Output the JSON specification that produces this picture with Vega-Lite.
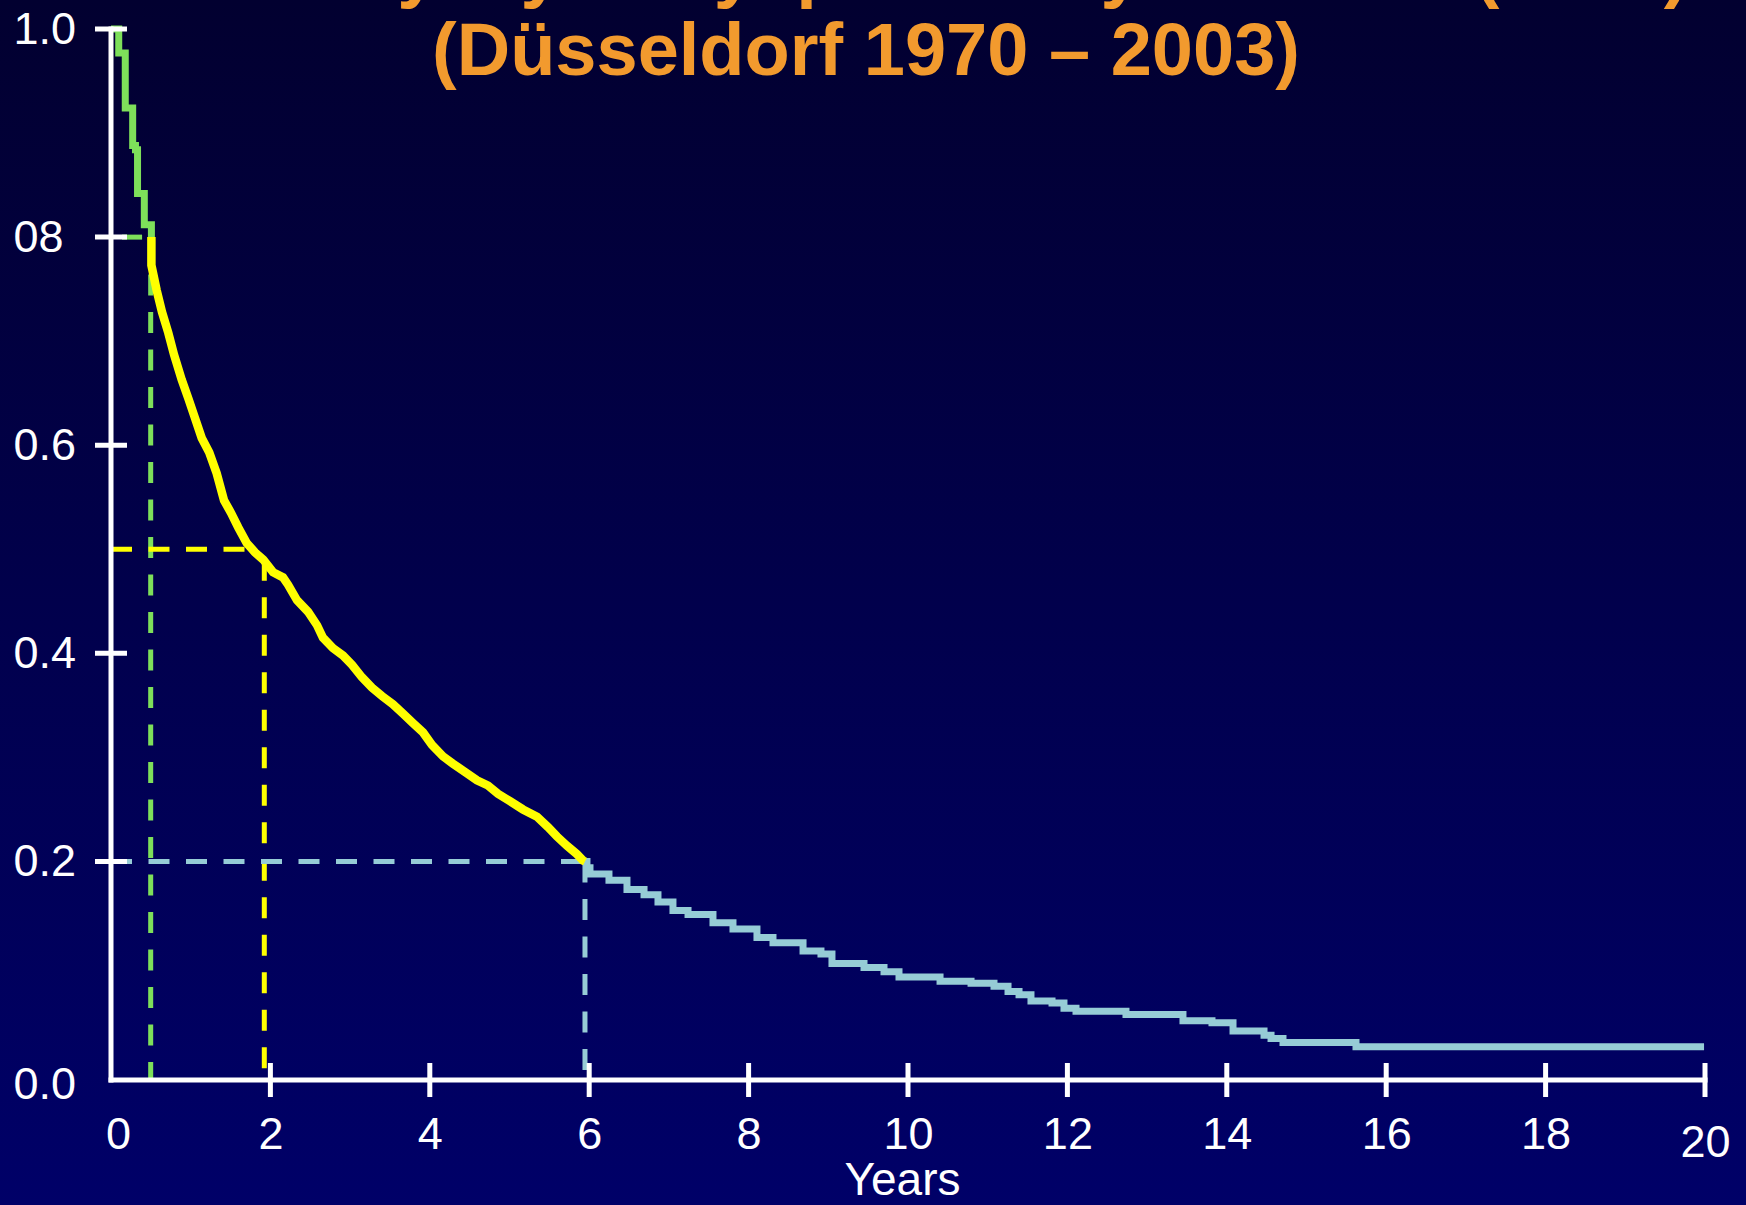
{
  "$schema": "https://vega.github.io/schema/vega-lite/v6.json",
  "width": 1746,
  "height": 1205,
  "autosize": {"type": "none"},
  "padding": 0,
  "background": "#00004a",
  "title": {
    "text": ["Survival by Myelodysplastic Syndromes (MDS)", "(Düsseldorf 1970 – 2003)"],
    "orient": "top",
    "anchor": "middle",
    "frame": "group",
    "font": "Liberation Sans",
    "fontSize": 74,
    "fontWeight": "bold",
    "color": "#F29A2E",
    "lineHeight": 81,
    "baseline": "bottom",
    "offset": -165,
    "dx": -7
  },
  "datasets": {
    "curve": [
      {"i": 0, "seg": "early", "t": 0, "s": 1.0},
      {"i": 1, "seg": "early", "t": 0.097, "s": 0.977},
      {"i": 2, "seg": "early", "t": 0.179, "s": 0.924},
      {"i": 3, "seg": "early", "t": 0.272, "s": 0.888},
      {"i": 4, "seg": "early", "t": 0.307, "s": 0.884},
      {"i": 5, "seg": "early", "t": 0.333, "s": 0.842},
      {"i": 6, "seg": "early", "t": 0.418, "s": 0.812},
      {"i": 7, "seg": "early", "t": 0.507, "s": 0.8},
      {"i": 10, "seg": "mid", "t": 0.507, "s": 0.8},
      {"i": 11, "seg": "mid", "t": 0.507, "s": 0.773},
      {"i": 12, "seg": "mid", "t": 0.573, "s": 0.749},
      {"i": 13, "seg": "mid", "t": 0.64, "s": 0.728},
      {"i": 14, "seg": "mid", "t": 0.719, "s": 0.708},
      {"i": 15, "seg": "mid", "t": 0.791, "s": 0.687},
      {"i": 16, "seg": "mid", "t": 0.887, "s": 0.663},
      {"i": 17, "seg": "mid", "t": 0.97, "s": 0.645},
      {"i": 18, "seg": "mid", "t": 1.054, "s": 0.626},
      {"i": 19, "seg": "mid", "t": 1.138, "s": 0.607},
      {"i": 20, "seg": "mid", "t": 1.233, "s": 0.593},
      {"i": 21, "seg": "mid", "t": 1.326, "s": 0.573},
      {"i": 22, "seg": "mid", "t": 1.418, "s": 0.547},
      {"i": 23, "seg": "mid", "t": 1.506, "s": 0.535},
      {"i": 24, "seg": "mid", "t": 1.597, "s": 0.521},
      {"i": 25, "seg": "mid", "t": 1.703, "s": 0.506},
      {"i": 26, "seg": "mid", "t": 1.807, "s": 0.497},
      {"i": 27, "seg": "mid", "t": 1.911, "s": 0.49},
      {"i": 28, "seg": "mid", "t": 2.033, "s": 0.478},
      {"i": 29, "seg": "mid", "t": 2.158, "s": 0.473},
      {"i": 30, "seg": "mid", "t": 2.221, "s": 0.466},
      {"i": 31, "seg": "mid", "t": 2.334, "s": 0.451},
      {"i": 32, "seg": "mid", "t": 2.472, "s": 0.44},
      {"i": 33, "seg": "mid", "t": 2.585, "s": 0.427},
      {"i": 34, "seg": "mid", "t": 2.66, "s": 0.415},
      {"i": 35, "seg": "mid", "t": 2.785, "s": 0.405},
      {"i": 36, "seg": "mid", "t": 2.911, "s": 0.398},
      {"i": 37, "seg": "mid", "t": 3.024, "s": 0.389},
      {"i": 38, "seg": "mid", "t": 3.149, "s": 0.377},
      {"i": 39, "seg": "mid", "t": 3.275, "s": 0.367},
      {"i": 40, "seg": "mid", "t": 3.4, "s": 0.359},
      {"i": 41, "seg": "mid", "t": 3.538, "s": 0.351},
      {"i": 42, "seg": "mid", "t": 3.664, "s": 0.342},
      {"i": 43, "seg": "mid", "t": 3.789, "s": 0.333},
      {"i": 44, "seg": "mid", "t": 3.915, "s": 0.324},
      {"i": 45, "seg": "mid", "t": 4.028, "s": 0.312},
      {"i": 46, "seg": "mid", "t": 4.166, "s": 0.301},
      {"i": 47, "seg": "mid", "t": 4.291, "s": 0.294},
      {"i": 48, "seg": "mid", "t": 4.442, "s": 0.286},
      {"i": 49, "seg": "mid", "t": 4.592, "s": 0.278},
      {"i": 50, "seg": "mid", "t": 4.73, "s": 0.273},
      {"i": 51, "seg": "mid", "t": 4.856, "s": 0.265},
      {"i": 52, "seg": "mid", "t": 5.006, "s": 0.258},
      {"i": 53, "seg": "mid", "t": 5.169, "s": 0.25},
      {"i": 54, "seg": "mid", "t": 5.345, "s": 0.243},
      {"i": 55, "seg": "mid", "t": 5.483, "s": 0.233},
      {"i": 56, "seg": "mid", "t": 5.596, "s": 0.224},
      {"i": 57, "seg": "mid", "t": 5.722, "s": 0.215},
      {"i": 58, "seg": "mid", "t": 5.847, "s": 0.207},
      {"i": 59, "seg": "mid", "t": 5.922, "s": 0.201},
      {"i": 60, "seg": "mid", "t": 5.947, "s": 0.2},
      {"i": 70, "seg": "late", "t": 5.947, "s": 0.2},
      {"i": 71, "seg": "late", "t": 5.972, "s": 0.194},
      {"i": 72, "seg": "late", "t": 6.01, "s": 0.188},
      {"i": 73, "seg": "late", "t": 6.248, "s": 0.182},
      {"i": 74, "seg": "late", "t": 6.474, "s": 0.173},
      {"i": 75, "seg": "late", "t": 6.688, "s": 0.168},
      {"i": 76, "seg": "late", "t": 6.863, "s": 0.161},
      {"i": 77, "seg": "late", "t": 7.051, "s": 0.153},
      {"i": 78, "seg": "late", "t": 7.24, "s": 0.149},
      {"i": 79, "seg": "late", "t": 7.553, "s": 0.141},
      {"i": 80, "seg": "late", "t": 7.804, "s": 0.135},
      {"i": 81, "seg": "late", "t": 8.105, "s": 0.127},
      {"i": 82, "seg": "late", "t": 8.306, "s": 0.122},
      {"i": 83, "seg": "late", "t": 8.683, "s": 0.114},
      {"i": 84, "seg": "late", "t": 8.908, "s": 0.111},
      {"i": 85, "seg": "late", "t": 9.046, "s": 0.102},
      {"i": 86, "seg": "late", "t": 9.448, "s": 0.098},
      {"i": 87, "seg": "late", "t": 9.699, "s": 0.094},
      {"i": 88, "seg": "late", "t": 9.887, "s": 0.089},
      {"i": 89, "seg": "late", "t": 10.402, "s": 0.085},
      {"i": 90, "seg": "late", "t": 10.791, "s": 0.083},
      {"i": 91, "seg": "late", "t": 11.079, "s": 0.08},
      {"i": 92, "seg": "late", "t": 11.255, "s": 0.075},
      {"i": 93, "seg": "late", "t": 11.393, "s": 0.072},
      {"i": 94, "seg": "late", "t": 11.543, "s": 0.066},
      {"i": 95, "seg": "late", "t": 11.807, "s": 0.064},
      {"i": 96, "seg": "late", "t": 11.957, "s": 0.059},
      {"i": 97, "seg": "late", "t": 12.108, "s": 0.056},
      {"i": 98, "seg": "late", "t": 12.735, "s": 0.053},
      {"i": 99, "seg": "late", "t": 13.45, "s": 0.047},
      {"i": 100, "seg": "late", "t": 13.814, "s": 0.045},
      {"i": 101, "seg": "late", "t": 14.078, "s": 0.037},
      {"i": 102, "seg": "late", "t": 14.467, "s": 0.033},
      {"i": 103, "seg": "late", "t": 14.555, "s": 0.03},
      {"i": 104, "seg": "late", "t": 14.705, "s": 0.026},
      {"i": 105, "seg": "late", "t": 15.621, "s": 0.022},
      {"i": 106, "seg": "late", "t": 19.988, "s": 0.022}
    ],
    "guides": [
      {"seg": "early", "x": 0.138, "x2": 0.39, "y": 0.8, "y2": 0.8},
      {"seg": "early", "x": 0.498, "x2": 0.498, "y": 0.8, "y2": -0.01},
      {"seg": "mid", "x": 0, "x2": 1.75, "y": 0.5, "y2": 0.5},
      {"seg": "mid", "x": 1.9235, "x2": 1.9235, "y": 0.49, "y2": -0.01},
      {"seg": "late", "x": 0, "x2": 5.93, "y": 0.2, "y2": 0.2},
      {"seg": "late", "x": 5.947, "x2": 5.947, "y": 0.2, "y2": -0.01}
    ],
    "axislines": [
      {"x": 0, "x2": 20, "y": -0.01, "y2": -0.01},
      {"x": 0, "x2": 0, "y": -0.01, "y2": 1.0}
    ],
    "yticks": [{"v": 0.2}, {"v": 0.4}, {"v": 0.6}, {"v": 0.8}, {"v": 1.0}],
    "xticks": [{"t": 2}, {"t": 4}, {"t": 6}, {"t": 8}, {"t": 10}, {"t": 12}, {"t": 14}, {"t": 16}, {"t": 18}, {"t": 20}]
  },
  "layer": [
    {
      "data": {"name": "guides"},
      "mark": {"type": "rule", "strokeWidth": 5, "strokeDash": [21, 16.5], "clip": false},
      "encoding": {
        "x": {
          "field": "x", "type": "quantitative",
          "scale": {"domain": [-1.3927, 20.5144], "nice": false, "zero": false},
          "axis": {
            "orient": "bottom", "offset": -125,
            "values": [0.088, 2, 4, 6, 8, 10, 12, 14, 16, 18, 20],
            "labelExpr": "datum.value < 1 ? '0' : format(datum.value, 'd')",
            "labelPadding": {"condition": {"test": "datum.value > 19", "value": 40}, "value": 32},
            "title": "Years", "titleX": 902, "titleY": 78, "titleBaseline": "top"
          }
        },
        "x2": {"field": "x2"},
        "y": {
          "field": "y", "type": "quantitative",
          "scale": {"domain": [-0.13012, 1.02787], "nice": false, "zero": false},
          "axis": {
            "orient": "left", "offset": -111,
            "values": [-0.01, 0.2, 0.4, 0.6, 0.8, 1.0],
            "labelExpr": "datum.value < 0.1 ? '0.0' : (datum.value > 0.75 && datum.value < 0.85) ? '08' : format(datum.value, '.1f')",
            "labelAlign": "left",
            "labelPadding": 98,
            "labelOffset": {"condition": {"test": "datum.value < 0.1", "value": 4}, "value": 0},
            "title": null
          }
        },
        "y2": {"field": "y2"},
        "color": {"field": "seg", "type": "nominal", "legend": null, "scale": {"domain": ["early", "mid", "late"], "range": ["#7EE05A", "#FFFF00", "#96CCD6"]}}
      }
    },
    {
      "data": {"name": "curve"},
      "transform": [{"filter": "datum.seg !== 'mid'"}],
      "mark": {"type": "line", "interpolate": "step-after", "strokeWidth": 7, "strokeCap": "butt", "clip": false},
      "encoding": {
        "x": {"field": "t", "type": "quantitative", "scale": {"domain": [-1.3927, 20.5144], "nice": false, "zero": false}},
        "y": {"field": "s", "type": "quantitative", "scale": {"domain": [-0.13012, 1.02787], "nice": false, "zero": false}},
        "color": {"field": "seg", "type": "nominal", "legend": null, "scale": {"domain": ["early", "mid", "late"], "range": ["#7EE05A", "#FFFF00", "#96CCD6"]}},
        "order": {"field": "i", "type": "quantitative"}
      }
    },
    {
      "data": {"name": "curve"},
      "transform": [{"filter": "datum.seg === 'mid'"}],
      "mark": {"type": "line", "interpolate": "linear", "strokeWidth": 8.5, "strokeCap": "butt", "strokeJoin": "miter", "clip": false},
      "encoding": {
        "x": {"field": "t", "type": "quantitative", "scale": {"domain": [-1.3927, 20.5144], "nice": false, "zero": false}},
        "y": {"field": "s", "type": "quantitative", "scale": {"domain": [-0.13012, 1.02787], "nice": false, "zero": false}},
        "color": {"field": "seg", "type": "nominal", "legend": null, "scale": {"domain": ["early", "mid", "late"], "range": ["#7EE05A", "#FFFF00", "#96CCD6"]}},
        "order": {"field": "i", "type": "quantitative"}
      }
    },
    {
      "data": {"name": "axislines"},
      "mark": {"type": "rule", "strokeWidth": 5, "color": "#ffffff", "strokeCap": "square", "clip": false},
      "encoding": {
        "x": {"field": "x", "type": "quantitative", "scale": {"domain": [-1.3927, 20.5144], "nice": false, "zero": false}},
        "x2": {"field": "x2"},
        "y": {"field": "y", "type": "quantitative", "scale": {"domain": [-0.13012, 1.02787], "nice": false, "zero": false}},
        "y2": {"field": "y2"}
      }
    },
    {
      "data": {"name": "yticks"},
      "mark": {"type": "tick", "orient": "horizontal", "size": 32, "thickness": 5, "color": "#ffffff", "opacity": 1, "clip": false},
      "encoding": {
        "x": {"datum": 0, "type": "quantitative", "scale": {"domain": [-1.3927, 20.5144], "nice": false, "zero": false}},
        "y": {"field": "v", "type": "quantitative", "scale": {"domain": [-0.13012, 1.02787], "nice": false, "zero": false}}
      }
    },
    {
      "data": {"name": "xticks"},
      "mark": {"type": "tick", "orient": "vertical", "size": 34, "thickness": 5, "color": "#ffffff", "opacity": 1, "clip": false},
      "encoding": {
        "x": {"field": "t", "type": "quantitative", "scale": {"domain": [-1.3927, 20.5144], "nice": false, "zero": false}},
        "y": {"datum": -0.01, "type": "quantitative", "scale": {"domain": [-0.13012, 1.02787], "nice": false, "zero": false}}
      }
    }
  ],
  "config": {
    "font": "Liberation Sans",
    "axis": {
      "domain": false, "ticks": false, "grid": false,
      "labelFont": "Liberation Sans", "labelFontSize": 45, "labelColor": "#ffffff",
      "labelOverlap": false, "labelFlush": false,
      "titleFont": "Liberation Sans", "titleFontSize": 46, "titleFontWeight": "normal", "titleColor": "#ffffff"
    },
    "view": {
      "stroke": null,
      "fill": {
        "gradient": "linear", "x1": 0, "y1": 0, "x2": 0, "y2": 1,
        "stops": [{"offset": 0, "color": "#020030"}, {"offset": 1, "color": "#000068"}]
      }
    }
  }
}
